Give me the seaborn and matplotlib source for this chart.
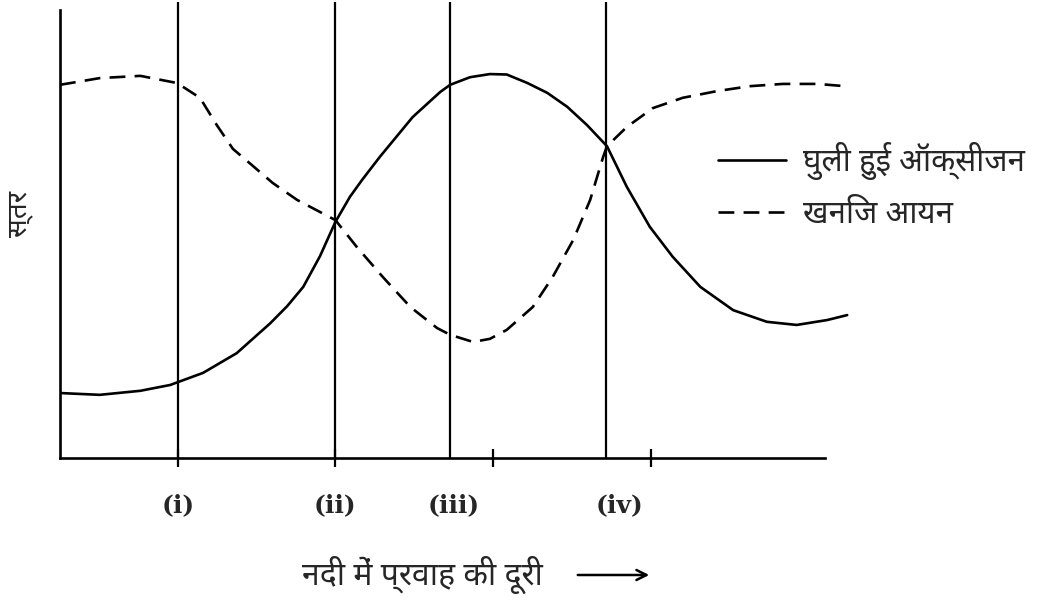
import numpy as np
import pandas as pd
import matplotlib
matplotlib.use("Agg")
import matplotlib.pyplot as plt
import seaborn as sns
from matplotlib.lines import Line2D

# === Data (distance 0-100 along axis, level 0-100) ===
oxygen_dist = [0.0, 5.2, 10.5, 14.4, 18.7, 23.1, 27.5, 29.7, 31.8, 34.0, 36.0,
               37.9, 39.5, 41.8, 46.1, 49.7, 51.0, 53.6, 56.2, 58.4, 61.1,
               63.7, 66.3, 68.9, 71.5, 74.1, 77.1, 80.1, 83.7, 88.0, 92.4,
               96.3, 100.3, 102.9]
oxygen_level = [14.5, 14.1, 15.0, 16.3, 19.0, 23.4, 30.1, 33.9, 38.2, 45.1, 52.7,
                58.3, 62.1, 67.2, 76.1, 81.7, 83.3, 85.0, 85.7, 85.6, 83.7,
                81.5, 78.4, 74.3, 69.6, 60.5, 51.6, 44.9, 38.2, 33.0, 30.4,
                29.7, 30.8, 31.9]

ions_dist = [0.0, 5.2, 10.5, 15.3, 18.3, 20.5, 22.6, 24.8, 27.8, 31.0, 36.0,
             38.8, 42.2, 45.8, 49.3, 51.0, 54.0, 56.2, 58.4, 61.8, 64.4,
             67.1, 69.3, 71.0, 71.5, 74.1, 77.5, 81.4, 85.9, 90.2, 94.5,
             99.0, 102.6]
ions_level = [83.3, 84.8, 85.3, 83.7, 80.4, 74.3, 69.0, 65.8, 61.4, 57.6, 53.1,
              47.1, 40.4, 33.7, 29.0, 27.5, 25.9, 26.6, 28.6, 33.7, 40.4,
              48.7, 57.6, 67.2, 69.6, 73.9, 78.1, 80.4, 81.9, 83.0, 83.5,
              83.5, 83.0]

series_names = ["घुली हुई ऑक्सीजन", "खनिज आयन"]

zone_lines = [15.4, 36.0, 51.0, 71.4]
tick_pos = [15.4, 36.0, 56.6, 77.3]
zone_labels = ["(i)", "(ii)", "(iii)", "(iv)"]
zone_label_pos = [15.4, 36.0, 51.4, 73.2]

x_label = "नदी में प्रवाह की दूरी"
y_label = "स्तर"

df = pd.concat([
    pd.DataFrame({"dist": oxygen_dist, "level": oxygen_level, "series": series_names[0]}),
    pd.DataFrame({"dist": ions_dist, "level": ions_level, "series": series_names[1]}),
])

# === Style ===
sns.set_style("white")
deva = ["Noto Sans Devanagari", "Mukta", "Hind", "DejaVu Sans"]
plt.rcParams["font.family"] = deva

fig = plt.figure(figsize=(10.39, 6), dpi=100)
ax = fig.add_axes([60 / 1039, 142 / 600, 790 / 1039, 458 / 600])

dash = (6, 3.5)
sns.lineplot(data=df, x="dist", y="level", style="series",
             dashes={series_names[0]: "", series_names[1]: dash},
             color="black", linewidth=1.9, sort=False, estimator=None,
             legend=False, ax=ax)

ax.vlines(zone_lines, 0, 101.8, color="black", linewidth=1.6)

ax.set_xlim(0, 790 / 7.65)
ax.set_ylim(0, 458 / 4.48)

# axes look: only left and bottom, cut short
sns.despine(ax=ax)
for side in ["left", "bottom"]:
    ax.spines[side].set_linewidth(1.9)
    ax.spines[side].set_color("black")
ax.spines["left"].set_bounds(0, 100)
ax.spines["bottom"].set_bounds(0, 100)

ax.set_yticks([])
ax.set_xticks(tick_pos)
ax.tick_params(axis="x", direction="inout", length=13, width=1.6,
               color="black", labelbottom=False, bottom=True)

for xp, lab in zip(zone_label_pos, zone_labels):
    ax.text(xp, -10.5, lab, ha="center", va="center", fontsize=18,
            family="DejaVu Serif", weight="bold", clip_on=False)

ax.set_xlabel(x_label, fontsize=23)
ax.xaxis.label.set_va("baseline")
ax.xaxis.set_label_coords((422 - 60) / 790, (458 - 585) / 458)
ax.set_ylabel(y_label, fontsize=20)
ax.yaxis.set_label_coords((33 - 60) / 790, (458 - 214) / 458)

ax.annotate("", xy=(652, 25), xytext=(575, 25), xycoords="figure pixels",
            arrowprops=dict(arrowstyle="->", lw=1.8, color="black",
                            mutation_scale=18))

handles = [Line2D([], [], color="black", linewidth=1.9),
           Line2D([], [], color="black", linewidth=1.9, dashes=dash)]
ax.legend(handles, series_names, loc="center left",
          bbox_to_anchor=(705 / 1039, 1 - 186 / 600), bbox_transform=fig.transFigure,
          frameon=False, fontsize=22.5, handlelength=2.2, handletextpad=0.55,
          labelspacing=0.66, borderaxespad=0)

fig.savefig("out.png", dpi=100)
